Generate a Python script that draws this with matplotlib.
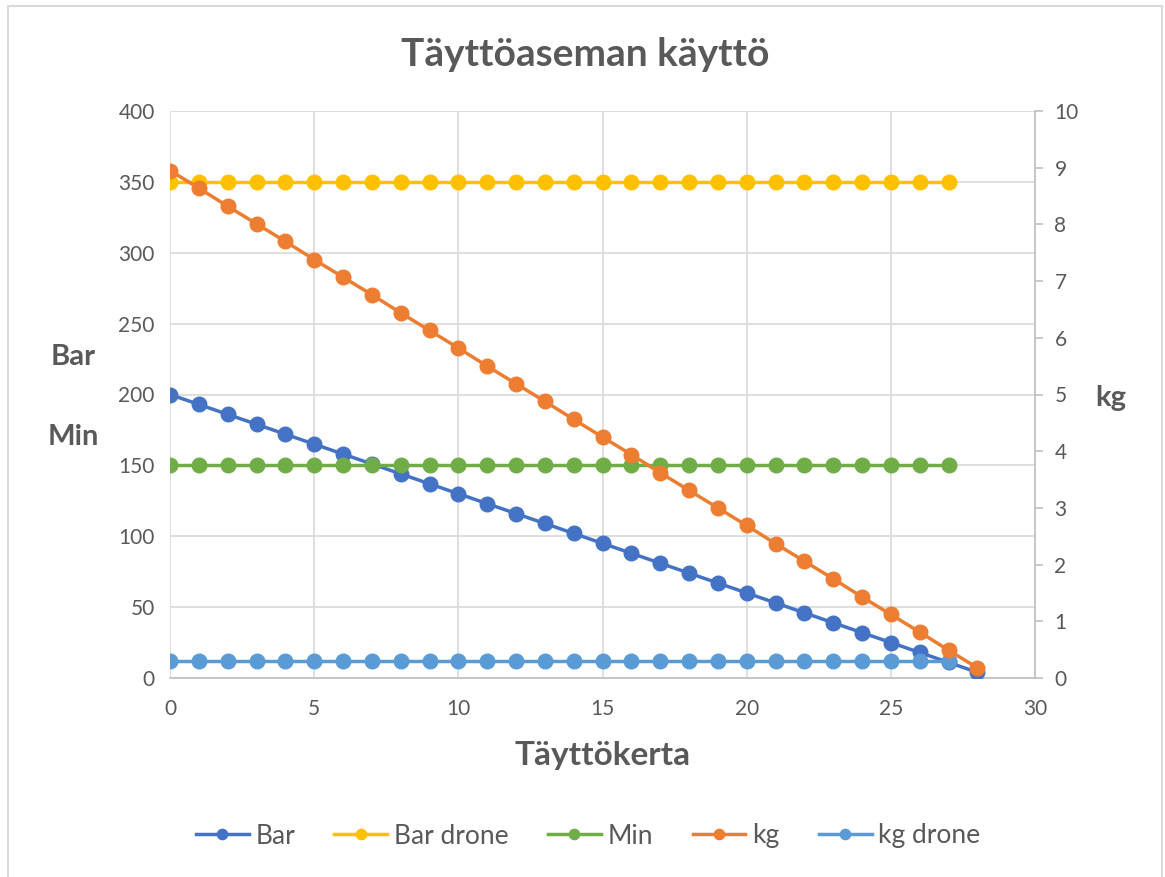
import matplotlib.pyplot as plt
from matplotlib.patches import Rectangle

plt.rcParams['font.family'] = ['Lato', 'DejaVu Sans']

kerta = list(range(29))
kerta_drone = list(range(28))

bar = [200, 193, 186, 179, 172, 165, 158, 151, 144, 137, 130, 123, 116, 109, 102,
       95, 88, 81, 74, 67, 60, 53, 46, 39, 32, 25, 18, 11, 4]
bar_drone = [350] * 28
minuutit = [150] * 28
kg = [8.95, 8.64, 8.32, 8.01, 7.70, 7.38, 7.07, 6.76, 6.44, 6.13, 5.82, 5.50, 5.19,
      4.88, 4.56, 4.25, 3.94, 3.62, 3.31, 3.00, 2.69, 2.37, 2.06, 1.75, 1.43, 1.12,
      0.81, 0.49, 0.18]
kg_drone = [0.3] * 28

grey = '#595959'
grid_c = '#D9D9D9'

fig = plt.figure(figsize=(11.65, 8.77), dpi=100)
ax = fig.add_axes([170 / 1165, 1 - 678 / 877, 865 / 1165, 567 / 877])
ax2 = ax.twinx()

# chart border
fig.patches.append(Rectangle((8 / 1165, -0.05), 1154 / 1165, 1.05 - 6 / 877,
                             transform=fig.transFigure, fill=False,
                             edgecolor=grid_c, linewidth=1.5))

style = dict(marker='o', markersize=10.5, linewidth=2.5)
ax.plot(kerta, bar, color='#4472C4', label='Bar', zorder=3, **style)
ax.plot(kerta_drone, bar_drone, color='#FFC000', label='Bar drone', zorder=3, **style)
ax.plot(kerta_drone, minuutit, color='#70AD47', label='Min', zorder=3, **style)
ax2.plot(kerta_drone, kg_drone, color='#5B9BD5', label='kg drone', zorder=3, **style)
ax2.plot(kerta, kg, color='#ED7D31', label='kg', zorder=4, **style)

ax.set_xlim(0, 30)
ax.set_ylim(0, 400)
ax2.set_ylim(0, 10)
ax.set_xticks(range(0, 31, 5))
ax.set_yticks(range(0, 401, 50))
ax2.set_yticks(range(0, 11))

ax.grid(True, color=grid_c, linewidth=1.2)
ax.set_axisbelow(True)
for a in (ax, ax2):
    for s in a.spines.values():
        s.set_visible(False)
ax.spines['bottom'].set_visible(True)
ax.spines['bottom'].set_color('#BFBFBF')
ax.spines['bottom'].set_linewidth(1.2)
ax2.spines['right'].set_visible(True)
ax2.spines['right'].set_color('#BFBFBF')
ax2.spines['right'].set_linewidth(1.2)

ax.tick_params(axis='both', length=0, labelsize=15, labelcolor=grey, pad=11)
ax.tick_params(axis='x', pad=15)
ax2.tick_params(axis='y', length=6, width=1.2, color='#BFBFBF', labelsize=15,
                labelcolor=grey, pad=8)

fig.text(585 / 1165, 1 - 55 / 877, 'Täyttöaseman käyttö', ha='center', va='center',
         fontsize=28, fontweight='bold', color=grey)
fig.text(73 / 1165, 1 - 357 / 877, 'Bar', ha='center', va='center',
         fontsize=21, fontweight='bold', color=grey)
fig.text(73 / 1165, 1 - 437 / 877, 'Min', ha='center', va='center',
         fontsize=21, fontweight='bold', color=grey)
fig.text(1111 / 1165, 1 - 398 / 877, 'kg', ha='center', va='center',
         fontsize=21, fontweight='bold', color=grey)
fig.text(603 / 1165, 1 - 756 / 877, 'Täyttökerta', ha='center', va='center',
         fontsize=24, fontweight='bold', color=grey)

h1, l1 = ax.get_legend_handles_labels()
h2, l2 = ax2.get_legend_handles_labels()
handles = h1 + [h2[1], h2[0]]
labels = l1 + [l2[1], l2[0]]
leg = fig.legend(handles, labels, loc='center', ncol=5, bbox_to_anchor=(588 / 1165, 1 - 836 / 877),
                 frameon=False, fontsize=19, markerscale=0.7, handlelength=2.0,
                 handletextpad=0.25, columnspacing=1.5)
for t in leg.get_texts():
    t.set_color(grey)

fig.savefig('out.png', dpi=100)
